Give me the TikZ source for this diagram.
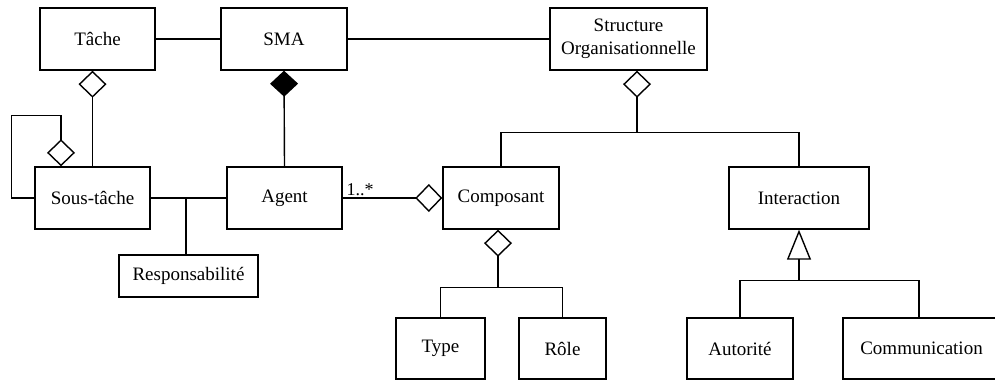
\documentclass[tikz,border=0pt]{standalone}
\usepackage{fontspec}
\setmainfont{Liberation Serif}
\usetikzlibrary{arrows.meta}
\begin{document}
\begin{tikzpicture}[x=1pt,y=1pt,line width=1.4pt,
  box/.style={draw,line width=1.4pt,inner sep=0pt,align=center,font=\fontsize{19}{23}\selectfont},
  aggo/.style={{Diamond[open,length=27pt,width=28pt,line width=1.4pt]}-},
  compo/.style={{Diamond[length=26pt,width=28pt]}-},
  gen/.style={{Triangle[open,length=30pt,width=24pt,line width=1.4pt]}-},
  mult/.style={inner sep=0pt,font=\fontsize{18}{20}\selectfont}]
\useasboundingbox (0,0) rectangle (995,-380);
\clip (0,0) rectangle (995,-380);
\node[box,minimum width=115pt,minimum height=62pt] (Tache) at (97.5,-39) {Tâche};
\node[box,minimum width=126pt,minimum height=62pt] (SMA) at (284,-39) {SMA};
\node[box,minimum width=157pt,minimum height=62pt] (Struct) at (628.5,-39) {Structure\\Organisationnelle};
\node[box,minimum width=115pt,minimum height=62pt] (Sous) at (92.5,-198) {Sous-tâche};
\node[box,minimum width=115pt,minimum height=62pt] (Agent) at (284.5,-198) {Agent};
\node[box,minimum width=139pt,minimum height=42pt] (Resp) at (188.5,-276) {Responsabilité};
\node[box,minimum width=116pt,minimum height=62pt] (Comp) at (501,-198) {Composant};
\node[box,minimum width=140pt,minimum height=62pt] (Inter) at (799,-198) {Interaction};
\node[box,minimum width=89pt,minimum height=61pt] (Type) at (440.5,-348.5) {Type};
\node[box,minimum width=87pt,minimum height=61pt] (Role) at (562.5,-348.5) {Rôle};
\node[box,minimum width=106pt,minimum height=61pt] (Auto) at (740,-348.5) {Autorité};
\node[box,minimum width=157pt,minimum height=61pt] (Comm) at (921.5,-348.5) {Communication};
% top associations
\draw (Tache) -- (SMA);
\draw (SMA) -- (Struct);
% Tache - Sous-tache aggregation
\draw[aggo] (Sous.north |- Tache.south) -- (Sous.north);
% self loop
\draw[aggo] ([xshift=-31.5pt]Sous.north) -- ++(0,51) -| ([xshift=-23pt]Sous.west) -- (Sous.west);
% SMA - Agent composition
\draw[compo] (SMA.south) -- (Agent.north);
% Sous-tache - Agent with Responsabilite
\draw (Sous.east) -- (Agent.west);
\coordinate (rj) at (186,-198);
\draw (rj) -- (rj |- Resp.north);
% Agent - Composant
\draw[aggo] (Comp.west) -- (Agent.east);
\node[mult,anchor=south west] (m) at (346,-196) {1..*};
% Structure aggregation
\draw[aggo] ([xshift=8.5pt]Struct.south) -- ++(0,-62) coordinate (sj);
\draw (Comp.north) |- (sj) -| (Inter.north);
% Composant aggregation
\draw[aggo] ([xshift=-3pt]Comp.south) -- ++(0,-58) coordinate (cj);
\draw (Type.north) |- (cj) -| (Role.north);
% Interaction generalization
\draw[gen] (Inter.south) -- ++(0,-51) coordinate (ij);
\coordinate (cv) at (919,-318);
\draw (Auto.north) |- (ij) -| (cv);
\end{tikzpicture}
\end{document}
